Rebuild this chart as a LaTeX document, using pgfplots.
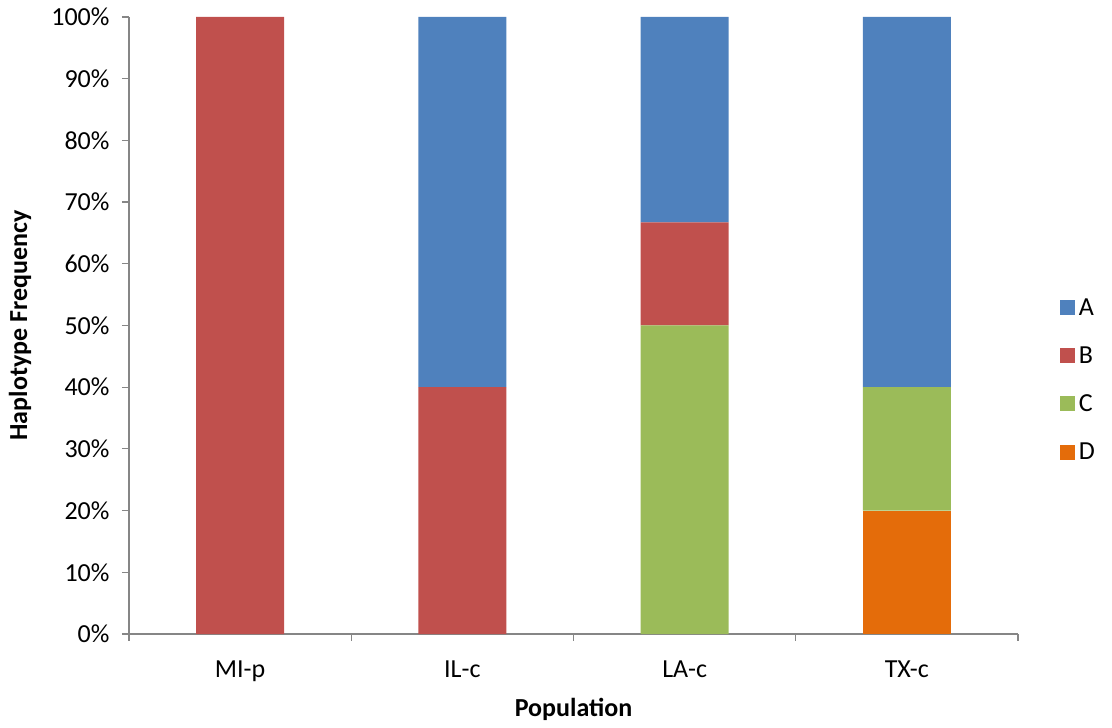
\documentclass[border=0pt]{standalone}
\usepackage{pgfplots}
\pgfplotsset{compat=1.18}
\usepackage{fontspec}
\setmainfont{Carlito}

\definecolor{hapA}{HTML}{4F81BD}
\definecolor{hapB}{HTML}{C0504D}
\definecolor{hapC}{HTML}{9BBB59}
\definecolor{hapD}{HTML}{E46C0A}
\definecolor{axgray}{HTML}{868686}

\begin{document}
\begin{tikzpicture}
\begin{axis}[
  name=ax,
  scale only axis,
  width=889bp, height=617bp,
  ybar stacked,
  bar width=0.396,
  xmin=-0.5, xmax=3.5,
  ymin=0, ymax=100,
  axis lines*=left,
  axis line style={axgray, line width=1.2bp},
  every tick/.style={axgray, line width=1.2bp},
  tick align=outside,
  xtick={0,1,2,3},
  xticklabels={MI-p,IL-c,LA-c,TX-c},
  major x tick style={draw=none},
  minor xtick={-0.5,0.5,1.5,2.5,3.5},
  minor tick length=7bp,
  ytick={0,10,...,100},
  major tick length=7bp,
  yticklabel={\pgfmathprintnumber{\tick}\%},
  /pgf/number format/assume math mode=true,
  tick label style={font=\fontsize{26bp}{30bp}\selectfont},
  yticklabel style={xshift=-9bp},
  xticklabel style={yshift=-16bp},
  xlabel={\textbf{Population}},
  ylabel={\textbf{Haplotype Frequency}},
  label style={font=\fontsize{26bp}{30bp}\selectfont},
  xlabel style={at={(axis description cs:0.5,-0.123)}, anchor=center},
  ylabel style={at={(axis description cs:-0.1226,0.5)}, anchor=center},
  legend style={draw=none, fill=none, at={(1.047,0.412)}, anchor=west,
    font=\fontsize{26bp}{30bp}\selectfont, row sep=26bp,
    inner sep=0pt, nodes={inner xsep=4bp, inner ysep=2bp}},
  legend cell align=left,
  reverse legend,
  legend image code/.code={\fill[#1] (0bp,-7.5bp) rectangle (15bp,7.5bp);},
]
% D at the bottom of each stack, then C, B and A on top
\addplot+[fill=hapD, draw=none] coordinates {(0,0) (1,0) (2,0) (3,20)};
\addplot+[fill=hapC, draw=none] coordinates {(0,0) (1,0) (2,50) (3,20)};
\addplot+[fill=hapB, draw=none] coordinates {(0,100) (1,40) (2,16.7) (3,0)};
\addplot+[fill=hapA, draw=none] coordinates {(0,0) (1,60) (2,33.3) (3,60)};
\legend{D,C,B,A}
\end{axis}
\pgfresetboundingbox
\path (ax.south west) ++(-129bp,-94bp) rectangle ++(1112bp,728bp);
\end{tikzpicture}
\end{document}
